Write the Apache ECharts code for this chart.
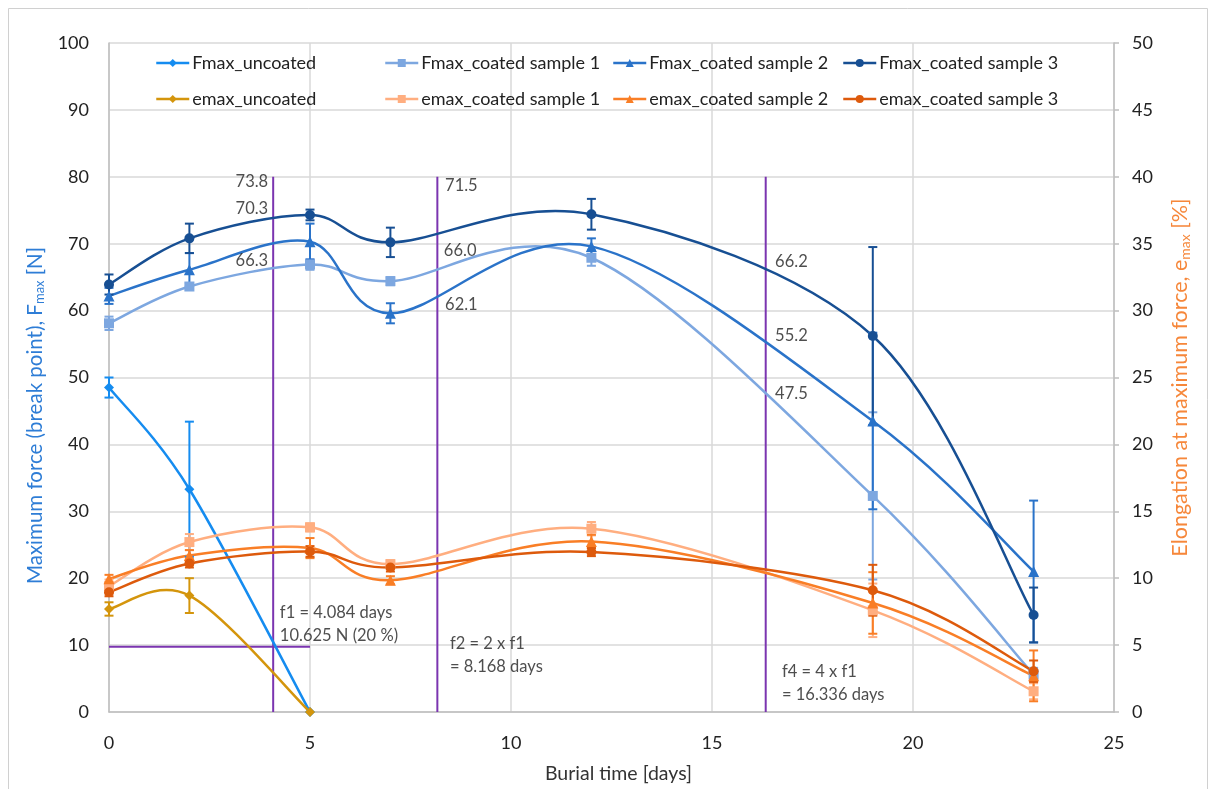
<!DOCTYPE html>
<html>
<head>
<meta charset="utf-8">
<script src="https://cdn.jsdelivr.net/npm/echarts@6/dist/echarts.min.js"></script>
<style>
html,body{margin:0;padding:0;background:#fff;}
#c{width:1216px;height:789px;}
</style>
</head>
<body>
<div id="c"></div>
<script>
// ---- data ----
const days_full = [0, 2, 5, 7, 12, 19, 23];
const days_unc = [0, 2, 5];

const F_uncoated = [48.5, 33.3, 0];
const F_coated1 = [58.1, 63.6, 66.9, 64.4, 67.9, 32.3, 5.6];
const F_coated2 = [62.2, 66.1, 70.3, 59.6, 69.6, 43.5, 21.0];
const F_coated3 = [63.9, 70.8, 74.3, 70.2, 74.4, 56.2, 14.5];

const F_uncoated_err = [1.5, 10.1, 0];
const F_coated1_err = [1.0, 0.5, 0.8, 0.6, 1.2, 12.5, 1.0];
const F_coated2_err = [1.2, 2.5, 2.7, 1.5, 1.2, 13.2, 10.6];
const F_coated3_err = [1.5, 2.2, 0.8, 2.2, 2.3, 13.3, 4.1];

const e_uncoated = [7.7, 8.7, 0];
const e_coated1 = [9.4, 12.7, 13.8, 11.05, 13.7, 7.6, 1.55];
const e_coated2 = [9.95, 11.7, 12.25, 9.85, 12.75, 8.15, 2.7];
const e_coated3 = [8.95, 11.1, 12.0, 10.8, 11.95, 9.1, 3.05];

const e_uncoated_err = [0.5, 1.3, 0];
const e_coated1_err = [0.5, 0.6, 0.3, 0.3, 0.5, 2.0, 0.6];
const e_coated2_err = [0.3, 0.4, 0.75, 0.3, 0.5, 2.3, 1.9];
const e_coated3_err = [0.3, 0.3, 0.4, 0.3, 0.3, 1.9, 0.8];

const names_F = ['Fmax_uncoated', 'Fmax_coated sample 1', 'Fmax_coated sample 2', 'Fmax_coated sample 3'];
const names_e = ['emax_uncoated', 'emax_coated sample 1', 'emax_coated sample 2', 'emax_coated sample 3'];

// reference lines (days) and 20 % force level
const f_lines = [4.084, 8.168, 16.336];
const f_line_top = 80;
const F20_level = 9.75;
const F20_xrange = [0, 5];

// annotation texts with anchor [x, y] in data units and side
const value_labels = [
  ['73.8', 3.96, 79.3, 'left'],
  ['70.3', 3.96, 75.2, 'left'],
  ['66.3', 3.96, 67.5, 'left'],
  ['71.5', 8.36, 78.7, 'right'],
  ['66.0', 8.33, 69.0, 'right'],
  ['62.1', 8.36, 60.9, 'right'],
  ['66.2', 16.57, 67.3, 'right'],
  ['55.2', 16.57, 56.3, 'right'],
  ['47.5', 16.57, 47.6, 'right']
];
const note_labels = [
  ['f1 = 4.084 days\n10.625 N (20 %)', 4.25, 13.2],
  ['f2 = 2 x f1\n= 8.168 days', 8.48, 8.43],
  ['f4 = 4 x f1\n= 16.336 days', 16.74, 4.25]
];

// ---- styles ----
const FONT = 'Lato, "Open Sans", sans-serif';
const colF = ['#158CF0', '#7DA7E0', '#2A73C9', '#174F93'];
const colE = ['#D4950C', '#FFAE80', '#F97E26', '#DD5A0C'];
const symbols = ['diamond', 'rect', 'triangle', 'circle'];
const purple = '#7B35B0';
const legendCols = [155, 384, 612, 842];
const legendRows = [54, 90];

function pairs(xs, ys) { return xs.map((x, i) => [x, ys[i]]); }
function errData(xs, ys, es) { return xs.map((x, i) => [x, ys[i] - es[i], ys[i] + es[i]]); }

// markers + legend entry (line itself drawn by smoothSeries)
function markerSeries(name, xs, ys, color, sym, yIdx) {
  return {
    name: name, type: 'line', yAxisIndex: yIdx,
    data: pairs(xs, ys),
    symbol: sym, symbolSize: sym === 'triangle' ? 11 : 10,
    lineStyle: { color: color, width: 2.5, opacity: 0 },
    itemStyle: { color: color },
    z: 5
  };
}
// Catmull-Rom smoothed line (Excel-like smoothing)
function smoothSeries(name, xs, ys, color, yIdx) {
  return {
    name: name, type: 'custom', yAxisIndex: yIdx, silent: true, z: 3,
    data: pairs(xs, ys), encode: { x: 0, y: 1 },
    renderItem: function (params, api) {
      const i = params.dataIndexInside;
      const n = params.dataInsideLength;
      if (i >= n - 1) return null;
      const cl = k => Math.max(0, Math.min(n - 1, k));
      const P = k => api.coord([api.value(0, cl(k)), api.value(1, cl(k))]);
      const p0 = P(i - 1), p1 = P(i), p2 = P(i + 1), p3 = P(i + 2);
      return {
        type: 'bezierCurve',
        shape: {
          x1: p1[0], y1: p1[1], x2: p2[0], y2: p2[1],
          cpx1: p1[0] + (p2[0] - p0[0]) / 6, cpy1: p1[1] + (p2[1] - p0[1]) / 6,
          cpx2: p2[0] - (p3[0] - p1[0]) / 6, cpy2: p2[1] - (p3[1] - p1[1]) / 6
        },
        style: { stroke: color, lineWidth: 2.5, fill: null }
      };
    }
  };
}
function errSeries(xs, ys, es, color, yIdx) {
  return {
    type: 'custom', yAxisIndex: yIdx, silent: true, z: 4,
    data: errData(xs, ys, es),
    encode: { x: 0, y: [1, 2] },
    renderItem: function (params, api) {
      const x = api.value(0), lo = api.value(1), hi = api.value(2);
      if (hi - lo <= 0) return null;
      const p1 = api.coord([x, hi]), p2 = api.coord([x, lo]);
      const w = 4.5;
      const st = { stroke: color, lineWidth: 2 };
      return {
        type: 'group', children: [
          { type: 'line', shape: { x1: p1[0], y1: p1[1], x2: p2[0], y2: p2[1] }, style: st },
          { type: 'line', shape: { x1: p1[0] - w, y1: p1[1], x2: p1[0] + w, y2: p1[1] }, style: st },
          { type: 'line', shape: { x1: p2[0] - w, y1: p2[1], x2: p2[0] + w, y2: p2[1] }, style: st }
        ]
      };
    }
  };
}

const series = [];
f_lines.forEach(fx => {
  series.push({
    type: 'line', data: [[fx, 0], [fx, f_line_top]], symbol: 'none', silent: true,
    lineStyle: { color: purple, width: 2 }, z: 2
  });
});
series.push({
  type: 'line', data: [[F20_xrange[0], F20_level], [F20_xrange[1], F20_level]], symbol: 'none', silent: true,
  lineStyle: { color: purple, width: 2 }, z: 2
});

const Fx = [days_unc, days_full, days_full, days_full];
const Fy = [F_uncoated, F_coated1, F_coated2, F_coated3];
const Fe = [F_uncoated_err, F_coated1_err, F_coated2_err, F_coated3_err];
const Ey = [e_uncoated, e_coated1, e_coated2, e_coated3];
const Ee = [e_uncoated_err, e_coated1_err, e_coated2_err, e_coated3_err];

for (let i = 0; i < 4; i++) series.push(errSeries(Fx[i], Fy[i], Fe[i], colF[i], 0));
for (let i = 0; i < 4; i++) series.push(errSeries(Fx[i], Ey[i], Ee[i], colE[i], 1));
for (let i = 0; i < 4; i++) series.push(smoothSeries('s_' + names_F[i], Fx[i], Fy[i], colF[i], 0));
for (let i = 0; i < 4; i++) series.push(smoothSeries('s_' + names_e[i], Fx[i], Ey[i], colE[i], 1));
for (let i = 0; i < 4; i++) series.push(markerSeries(names_F[i], Fx[i], Fy[i], colF[i], symbols[i], 0));
for (let i = 0; i < 4; i++) series.push(markerSeries(names_e[i], Fx[i], Ey[i], colE[i], symbols[i], 1));

series.push({
  type: 'scatter', symbolSize: 0, silent: true, z: 10,
  data: value_labels.map(l => ({
    value: [l[1], l[2]],
    label: { show: true, formatter: l[0], position: l[3], distance: 0,
      fontFamily: FONT, fontSize: 16.5, color: '#222' }
  }))
});
series.push({
  type: 'scatter', symbolSize: 0, silent: true, z: 10,
  data: note_labels.map(l => ({
    value: [l[1], l[2]],
    label: { show: true, formatter: l[0], position: 'right', distance: 0, align: 'left',
      fontFamily: FONT, fontSize: 16.5, lineHeight: 23, color: '#222' }
  }))
});

const legends = [];
for (let r = 0; r < 2; r++) {
  const names = r === 0 ? names_F : names_e;
  for (let c = 0; c < 4; c++) {
    legends.push({
      data: [names[c]], left: legendCols[c], top: legendRows[r], padding: 0,
      itemWidth: 33, itemHeight: 10, selectedMode: false,
      lineStyle: { opacity: 1, width: 2.5 },
      textStyle: { fontFamily: FONT, fontSize: 18, color: '#222', padding: [0, 0, 0, -2] }
    });
  }
}

const gridCol = '#D9D9D9';
const option = {
  animation: false,
  backgroundColor: '#fff',
  graphic: [{
    type: 'rect', shape: { x: 8.5, y: 8.5, width: 1199, height: 800 },
    style: { fill: 'none', stroke: '#D0D0D0', lineWidth: 1 }, silent: true, z: -10
  }],
  grid: { left: 109, right: 102, top: 43, bottom: 76 },
  legend: legends,
  xAxis: {
    type: 'value', min: 0, max: 25, interval: 5,
    name: 'Burial time [days]', nameLocation: 'middle', nameGap: 52,
    nameTextStyle: { fontFamily: FONT, fontSize: 19.5, color: '#333', padding: [0, 0, 0, 14] },
    axisLine: { show: true, lineStyle: { color: '#BFBFBF', width: 1.5 } },
    axisTick: { show: false },
    axisLabel: { fontFamily: FONT, fontSize: 18, color: '#222', margin: 22 },
    splitLine: { show: true, lineStyle: { color: gridCol, width: 1.5 } }
  },
  yAxis: [
    {
      type: 'value', min: 0, max: 100, interval: 10, position: 'left',
      name: '{a|Maximum force (break point), F}{b|max}{a| [N]}',
      nameLocation: 'middle', nameGap: 60, nameRotate: 90,
      nameTextStyle: {
        padding: [0, 76, 0, 0],
        rich: {
          a: { fontFamily: FONT, fontSize: 20.5, color: '#2E7DD6' },
          b: { fontFamily: FONT, fontSize: 13, color: '#2E7DD6', padding: [10, 0, 0, 0] }
        }
      },
      axisLine: { show: true, lineStyle: { color: '#BFBFBF', width: 1.5 } },
      axisTick: { show: false },
      axisLabel: { fontFamily: FONT, fontSize: 18, color: '#222', margin: 20 },
      splitLine: { show: true, lineStyle: { color: gridCol, width: 1.5 } }
    },
    {
      type: 'value', min: 0, max: 50, interval: 5, position: 'right',
      name: '{a|Elongation at maximum force, e}{b|max}{a| [%]}',
      nameLocation: 'middle', nameGap: 54, nameRotate: 90,
      nameTextStyle: {
        rich: {
          a: { fontFamily: FONT, fontSize: 21.5, color: '#F6873A' },
          b: { fontFamily: FONT, fontSize: 14, color: '#F6873A', padding: [10, 0, 0, 0] }
        }
      },
      axisLine: { show: true, lineStyle: { color: '#BFBFBF', width: 1.5 } },
      axisTick: { show: true, length: 5, lineStyle: { color: '#BFBFBF', width: 1.5 } },
      axisLabel: { fontFamily: FONT, fontSize: 18, color: '#222', margin: 18 },
      splitLine: { show: false }
    }
  ],
  series: series
};

const chart = echarts.init(document.getElementById('c'), null, { renderer: 'canvas' });
chart.setOption(option);
</script>
</body>
</html>
